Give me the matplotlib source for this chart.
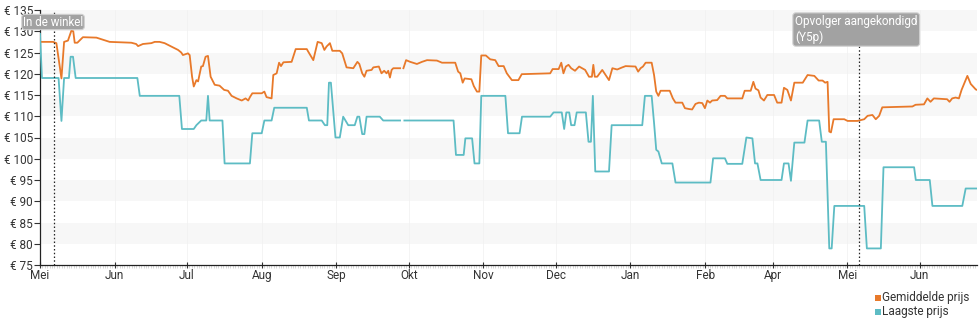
import matplotlib
matplotlib.use("Agg")
import matplotlib.pyplot as plt
from matplotlib.patches import Rectangle
import numpy as np

plt.rcParams['font.family'] = ['Roboto', 'DejaVu Sans']

# days since 1 May, price in euro (NaN = gap in the data)
avg_days = [0.3, 5.4, 6.8, 8.9, 10.0, 11.6, 13.0, 13.8, 14.4, 15.5, 17.8, 23.4, 28.9, 37.9, 39.9, 40.7,
            42.7, 46.2, 47.6, 49.6, 51.7, 54.5, 57.3, 58.6, 59.3, 61.4, 62.1, 63.1, 63.8, 64.9, 65.6,
            66.9, 67.6, 68.7, 69.7, 70.8, 72.5, 74.5, 76.4, 78.0,
            79.5, 81.6, 83.7, 85.3, 86.4, 87.1, 88.1, 92.0, 93.1, 94.0, 96.1, 96.8, 98.2, 99.2, 100.0,
            101.0, 104.4, 106.1, 110.7, 111.3, 113.4, 115.2, 116.9, 118.0, 118.9, 120.3, 121.3, 124.4,
            125.4, 127.2, 130.0, 131.7, 132.5, 133.7, 134.6, 135.5, 137.6, 138.3, 140.6, 141.7, 142.8,
            143.8, 144.5, 145.2, 145.9, 146.6, 149.4, 150.1, 150.8, 151.9, 153.6,
            156.4, 158.5, 160.6, 164.7, 166.8, 172.3, 173.5, 174.4, 175.4, 176.2, 179.0, 180.0, 181.3,
            182.3, 183.1, 185.0, 186.8, 188.9, 190.3, 192.4, 193.7, 195.8, 198.5, 199.9, 211.7, 212.7,
            215.2, 216.3, 217.2, 218.2, 219.3, 220.4, 222.0, 223.7, 226.2, 227.8, 229.0, 229.6, 230.2,
            231.2,
            233.3, 236.1, 237.5, 239.5, 241.6, 243.0, 247.1, 248.2, 249.2, 250.2, 251.3, 253.8, 254.8,
            255.7, 256.6, 257.5, 261.3, 262.6, 263.7, 266.5, 267.6, 269.3, 270.6, 272.0, 273.4, 274.8,
            275.9, 276.9, 278.0, 278.9, 281.0, 282.4, 284.2, 285.2, 291.4, 292.4, 294.9, 296.0, 296.9,
            298.1, 299.0, 300.4, 301.8, 304.6, 305.9, 307.7, 308.7, 310.1,
            311.6, 313.0, 316.5, 318.5, 321.3, 323.1, 324.7, 325.8, 326.8, 327.5, 328.2, 329.3, 333.7,
            335.1, 339.2, 342.0, 343.4, 345.4, 346.8, 348.2, 349.5, 362.0, 363.3, 366.8, 368.2, 369.5,
            370.9, 376.4, 377.4, 378.5, 379.9, 381.3, 382.4, 384.8, 386.2, 388.3, 388.8]
avg_price = [127.5, 127.5, 127.2, 118.9, 127.5, 127.8, 130.1, 130.0, 127.3, 127.3, 128.6, 128.5, 127.5, 127.3, 127.0, 126.5,
             127.0, 127.2, 127.5, 127.5, 127.2, 126.4, 125.6, 125.0, 124.4, 124.8, 124.4, 119.3, 117.0, 118.5, 118.2,
             121.7, 121.8, 124.0, 124.2, 119.3, 117.4, 117.2, 116.2, 116.0,
             114.8, 114.2, 113.7, 114.2, 113.7, 114.5, 115.4, 115.4, 115.8, 114.5, 114.2, 119.7, 120.1, 122.6, 121.8,
             122.7, 122.8, 125.8, 125.8, 125.2, 123.2, 127.5, 127.2, 125.6, 126.4, 127.2, 125.4, 125.4,
             124.8, 121.5, 121.3, 122.8, 122.3, 120.1, 119.3, 120.7, 120.9, 121.5, 121.7, 120.1, 120.7,
             120.1, 120.7, 119.1, 120.9, 121.3, 121.3, np.nan, 121.3, 123.2, 122.8,
             122.3, 122.8, 123.2, 123.1, 122.6, 122.6, 120.5, 120.1, 117.9, 118.9, 118.7, 117.1, 115.8,
             115.8, 124.3, 124.3, 123.4, 123.2, 121.8, 121.8, 120.1, 118.5, 118.5, 119.9, 120.1, 121.1,
             121.1, 122.6, 120.1, 121.7, 122.1, 121.3, 120.7, 121.7, 120.9, 119.3, 119.3, 122.1, 119.3,
             119.3,
             120.9, 118.5, 121.3, 121.0, 121.5, 121.8, 121.7, 120.5, 121.3, 121.7, 122.6, 122.6, 119.7,
             115.8, 114.8, 116.0, 116.0, 114.2, 113.2, 113.2, 111.9, 111.7, 111.6, 112.9, 113.2, 113.1,
             111.9, 113.7, 113.2, 113.7, 113.8, 114.8, 114.8, 114.2, 114.2, 116.0, 116.0, 118.1, 116.5,
             116.1, 114.4, 113.7, 115.0, 115.0, 113.2, 113.2, 116.7, 116.2,
             113.7, 117.9, 117.9, 119.7, 119.5, 118.4, 118.4, 117.9, 118.1, 106.4, 106.2, 109.3, 109.3,
             108.9, 108.9, 109.3, 110.1, 110.3, 109.3, 110.1, 112.1, 112.3, 112.7, 112.8, 114.2, 113.4,
             114.2, 114.0, 113.4, 114.2, 114.4, 114.2, 116.2, 119.5, 117.6, 116.3, 116.2]

low_days = [0.0, 0.8, 7.7, 8.9, 10.0, 12.0, 12.7, 13.7, 14.8, 40.4, 41.4, 57.8, 58.9, 63.8, 64.9, 66.9,
            69.0, 69.7, 70.4, 75.7, 76.6, 87.1, 88.1, 92.0, 93.1, 96.1, 97.2, 110.7, 111.6, 116.9, 118.2,
            119.2, 119.9, 120.7, 122.6, 124.4, 125.8, 127.9, 130.6, 131.7, 132.5, 133.7, 134.6, 135.5,
            141.0, 142.4, 149.4, 150.3, 151.2, 171.6, 172.6, 175.8, 176.5, 179.3, 180.3, 182.3, 183.1,
            193.1, 194.2, 199.0, 200.0, 211.7, 213.1, 216.5, 217.5, 218.4, 219.6, 220.4, 221.8, 222.7,
            226.5, 227.6, 228.6, 229.4, 230.4, 236.1, 237.2, 249.9, 251.0, 253.8, 254.8, 255.7, 256.6,
            258.0, 262.4, 263.7, 278.2, 279.3, 284.2, 285.2, 291.4, 293.1, 295.6, 296.7, 297.7, 299.0,
            307.7, 308.7, 310.6, 311.6, 313.0, 317.2, 318.5, 323.3, 324.4, 326.1, 327.5, 328.5, 329.6,
            342.0, 343.1, 348.9, 350.0, 362.7, 363.4, 369.2, 370.3, 382.7, 384.1, 388.8]
low_price = [129.4, 119.0, 119.0, 108.9, 119.0, 119.0, 124.0, 124.0, 119.0, 119.0, 114.8, 114.8, 107.0, 107.0, 107.9, 109.0,
             109.0, 114.8, 109.0, 109.0, 98.9, 98.9, 106.0, 106.0, 109.0, 109.0, 112.0, 112.0, 109.0, 109.0, 107.9,
             107.9, 117.9, 117.9, 105.0, 105.0, 109.9, 107.9, 107.9, 109.9, 109.9, 105.8, 105.8, 109.9,
             109.9, 109.0, 109.0, np.nan, 109.0, 109.0, 100.9, 100.9, 104.8, 104.8, 98.9, 98.9, 114.8,
             114.8, 106.0, 106.0, 109.9, 109.9, 110.9, 110.9, 107.0, 110.9, 110.9, 107.9, 107.9, 110.9,
             110.9, 104.0, 104.0, 114.8, 97.0, 97.0, 107.9, 107.9, 114.8, 114.8, 108.4, 102.1, 101.7,
             98.9, 98.9, 94.4, 94.4, 100.1, 100.1, 98.8, 98.8, 105.0, 104.8, 98.9, 98.9, 95.0,
             95.0, 98.9, 98.9, 94.8, 103.8, 103.8, 109.0, 109.0, 104.0, 104.0, 78.9, 78.9, 88.9,
             88.9, 78.9, 78.9, 98.0, 98.0, 95.0, 95.0, 88.9, 88.9, 93.0, 93.0]

month_days = [0, 31, 61, 92, 123, 153, 184, 214, 245, 276, 304, 335, 365]
month_labels = ['Mei', 'Jun', 'Jul', 'Aug', 'Sep', 'Okt', 'Nov', 'Dec', 'Jan', 'Feb', 'Apr', 'Mei', 'Jun']
y_ticks = [75, 80, 85, 90, 95, 100, 105, 110, 115, 120, 125, 130, 135]

events = [(5.8, 'In de winkel'), (339.8, 'Opvolger aangekondigd\n(Y5p)')]

orange = '#e8792a'
teal = '#5dbcc4'
txt = '#333333'

fig = plt.figure(figsize=(9.8, 3.25), dpi=100)
ax = fig.add_axes([40 / 980, 60 / 325, 937 / 980, 255 / 325])

for lo in range(80, 135, 10):
    ax.axhspan(lo, lo + 5, color='#f7f7f7', lw=0, zorder=0)
for d in month_days:
    ax.axvline(d, color='#f2f2f2', lw=0.6, zorder=0)

ax.plot(avg_days, avg_price, color=orange, lw=1.3, zorder=3)
ax.plot(low_days, low_price, color=teal, lw=1.3, zorder=3)

for d, _ in events:
    ax.axvline(d, color='#222222', lw=0.9, ls=(0, (1.2, 1.8)), zorder=4)

ax.set_xlim(0, 388.8)
ax.set_ylim(75, 135)
ax.set_yticks(y_ticks)
ax.set_yticklabels(['€ %d' % v for v in y_ticks])
ax.set_xticks(month_days)
ax.set_xticklabels(month_labels)
ax.set_xticks(np.arange(0, 389, 1), minor=True)
ax.tick_params(axis='x', which='minor', length=2, width=0.4, color='#bbbbbb', direction='out')
ax.tick_params(axis='x', which='major', length=4, width=0.8, color='#333333', direction='inout',
               labelsize=8.5, labelcolor=txt, pad=1)
ax.tick_params(axis='y', length=4, width=0.8, color='#333333', labelsize=8.5, labelcolor=txt, pad=1)

for s in ['top', 'right']:
    ax.spines[s].set_visible(False)
for s in ['left', 'bottom']:
    ax.spines[s].set_color('#222222')
    ax.spines[s].set_linewidth(0.9)

box = dict(boxstyle='round,pad=0.1,rounding_size=0.25', facecolor='#a2a2a2', edgecolor='#cfcfcf', lw=0.8)
fig.text(23 / 980, 1 - 15.5 / 325, events[0][1], color='white', fontsize=8.3, va='top', ha='left', bbox=box,
         zorder=5)
fig.text(795 / 980, 1 - 15 / 325, events[1][1], color='white', fontsize=8.5, va='top', ha='left',
         linespacing=1.25, bbox=dict(box, boxstyle='round,pad=0.18,rounding_size=0.25'))

# legend, bottom right
for i, (lab, col) in enumerate([('Gemiddelde prijs', orange), ('Laagste prijs', teal)]):
    yc = 297 + i * 14
    fig.patches.append(Rectangle((875 / 980, 1 - (yc + 3.5) / 325), 6 / 980, 6 / 325,
                                 transform=fig.transFigure, facecolor=col, edgecolor='none'))
    fig.text(882 / 980, 1 - yc / 325, lab, color=txt, fontsize=8.5, va='center', ha='left')

fig.savefig('out.png', dpi=100)
